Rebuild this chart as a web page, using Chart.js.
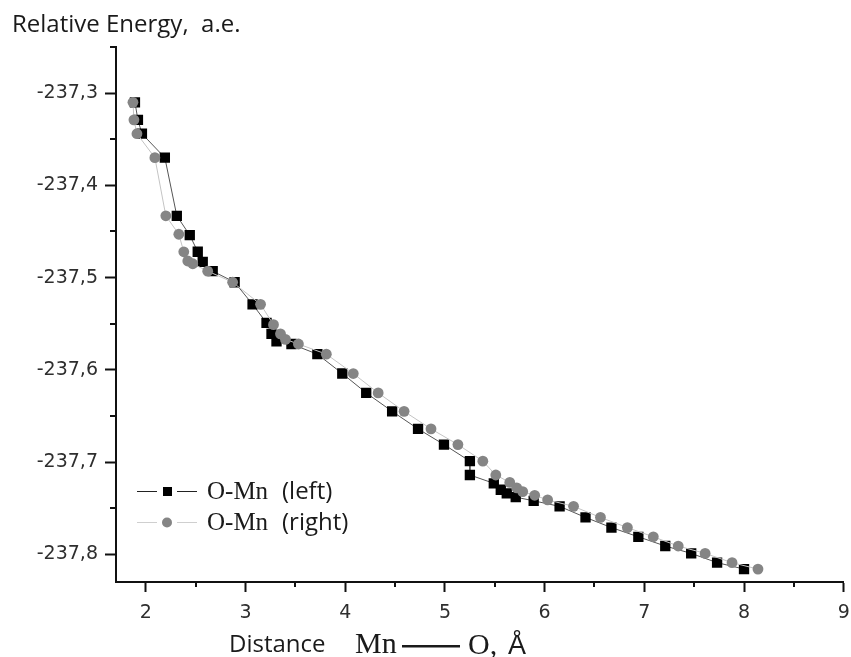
<!DOCTYPE html>
<html>
<head>
<meta charset="utf-8">
<script src="https://cdn.jsdelivr.net/npm/chart.js@4.4.1/dist/chart.umd.min.js"></script>
<style>
  html, body { margin: 0; padding: 0; background: #ffffff; }
  canvas { display: block; }
</style>
</head>
<body>
<canvas id="c" width="851" height="657" style="width:851px;height:657px"></canvas>
<script>
// ---- data ----
const leftLabel = ['O-Mn', '(left)'];
const rightLabel = ['O-Mn', '(right)'];
const yTitle = 'Relative Energy,  a.e.';
const xTitleParts = ['Distance', 'Mn', 'O,', 'Å'];

const xLeft = [1.89, 1.92, 1.96, 2.19, 2.31, 2.44, 2.52, 2.57, 2.67, 2.89, 3.07, 3.21, 3.26, 3.31, 3.46, 3.72, 3.97, 4.21, 4.47, 4.73, 4.99, 5.25, 5.25, 5.49, 5.56, 5.62, 5.71, 5.89, 6.15, 6.41, 6.67, 6.94, 7.21, 7.47, 7.73, 8.00];
const eLeft = [-237.310, -237.329, -237.344, -237.370, -237.433, -237.454, -237.472, -237.483, -237.493, -237.505, -237.529, -237.549, -237.561, -237.569, -237.572, -237.583, -237.604, -237.625, -237.645, -237.664, -237.681, -237.699, -237.714, -237.723, -237.730, -237.734, -237.738, -237.742, -237.748, -237.760, -237.771, -237.781, -237.791, -237.799, -237.809, -237.816];

const xRight = [1.87, 1.88, 1.91, 2.09, 2.20, 2.33, 2.38, 2.42, 2.47, 2.62, 2.87, 3.15, 3.28, 3.35, 3.40, 3.53, 3.81, 4.08, 4.33, 4.59, 4.86, 5.13, 5.38, 5.51, 5.65, 5.72, 5.78, 5.90, 6.03, 6.29, 6.56, 6.83, 7.09, 7.34, 7.61, 7.88, 8.14];
const eRight = [-237.310, -237.329, -237.344, -237.370, -237.433, -237.453, -237.472, -237.482, -237.485, -237.493, -237.505, -237.529, -237.551, -237.561, -237.567, -237.572, -237.583, -237.604, -237.625, -237.645, -237.664, -237.681, -237.699, -237.714, -237.722, -237.728, -237.732, -237.736, -237.741, -237.748, -237.760, -237.771, -237.781, -237.791, -237.799, -237.809, -237.816];

const xTicks = [2, 3, 4, 5, 6, 7, 8, 9];
const xTickLabels = ['2', '3', '4', '5', '6', '7', '8', '9'];
const yTicks = [-237.8, -237.7, -237.6, -237.5, -237.4, -237.3];
const yTickLabels = ['-237,8', '-237,7', '-237,6', '-237,5', '-237,4', '-237,3'];
const xRange = [1.7, 9];
const yRange = [-237.83, -237.25];

// ---- styling ----
const AX = '#111111';
const SQ = '#000000';
const CI = '#858585';
const LINE_L = '#555555';
const LINE_R = '#c4c4c4';
const tickFont = { family: '"DejaVu Sans"', size: 19 };

const toPts = (xs, ys) => xs.map((v, i) => ({ x: v, y: ys[i] }));

const decor = {
  id: 'decor',
  afterDraw(chart) {
    const ctx = chart.ctx;
    const xs = chart.scales.x, ys = chart.scales.y, a = chart.chartArea;
    ctx.save();
    // minor ticks
    ctx.strokeStyle = AX; ctx.lineWidth = 2;
    const half = (arr) => {
      const out = [];
      const step = arr[1] - arr[0];
      for (let i = 0; i < arr.length - 1; i++) out.push((arr[i] + arr[i + 1]) / 2);
      out.push(arr[0] - step / 2, arr[arr.length - 1] + step / 2);
      return out;
    };
    half(yTicks).forEach(v => {
      if (v < yRange[0] - 1e-9 || v > yRange[1] + 1e-9) return;
      const p = Math.round(ys.getPixelForValue(v));
      ctx.beginPath(); ctx.moveTo(a.left - 6, p); ctx.lineTo(a.left, p); ctx.stroke();
    });
    half(xTicks).forEach(v => {
      if (v < xRange[0] - 1e-9 || v > xRange[1] + 1e-9) return;
      const p = Math.round(xs.getPixelForValue(v));
      ctx.beginPath(); ctx.moveTo(p, a.bottom); ctx.lineTo(p, a.bottom + 5); ctx.stroke();
    });

    // y title (horizontal, top left)
    ctx.fillStyle = '#1a1a1a';
    ctx.textBaseline = 'alphabetic';
    ctx.textAlign = 'left';
    ctx.font = '24px "Open Sans"';
    ctx.fillText(yTitle, 12, 32);

    // x title: Distance  Mn —— O, Å
    ctx.font = '24px "Open Sans"';
    ctx.fillText(xTitleParts[0], 229, 652);
    ctx.font = '30px "Liberation Serif"';
    ctx.fillText(xTitleParts[1], 355, 653);
    ctx.fillRect(402, 645, 58, 2.5);
    ctx.font = '30px "Liberation Serif"';
    ctx.fillText(xTitleParts[2], 468, 654);
    ctx.font = '27px "Liberation Sans"';
    ctx.fillText(xTitleParts[3], 508, 654);

    // legend
    const rows = [
      { y: 491, line: '#222222', lw: 1, style: 'rect', color: SQ, text: leftLabel },
      { y: 522, line: '#cfcfcf', lw: 1, style: 'circle', color: CI, text: rightLabel }
    ];
    rows.forEach(r => {
      ctx.strokeStyle = r.line; ctx.lineWidth = r.lw;
      ctx.beginPath(); ctx.moveTo(137, r.y + 0.5); ctx.lineTo(157, r.y + 0.5);
      ctx.moveTo(177, r.y + 0.5); ctx.lineTo(197, r.y + 0.5); ctx.stroke();
      ctx.fillStyle = r.color;
      if (r.style === 'rect') { ctx.fillRect(163, r.y - 4, 9, 9); }
      else { ctx.beginPath(); ctx.arc(167, r.y + 0.5, 5, 0, Math.PI * 2); ctx.fill(); }
      ctx.fillStyle = '#1a1a1a';
      ctx.font = '25px "Liberation Serif"';
      ctx.fillText(r.text[0], 207, r.y + 8);
      ctx.font = '24px "Open Sans"';
      ctx.fillText(r.text[1], 282, r.y + 8);
    });
    ctx.restore();
  }
};

new Chart(document.getElementById('c'), {
  type: 'scatter',
  data: {
    datasets: [
      {
        label: leftLabel.join(' '),
        data: toPts(xLeft, eLeft),
        showLine: true,
        borderColor: LINE_L,
        borderWidth: 1,
        pointStyle: 'rect',
        pointRadius: 7.3,
        pointBackgroundColor: SQ,
        pointBorderColor: SQ,
        pointBorderWidth: 0,
        order: 1
      },
      {
        label: rightLabel.join(' '),
        data: toPts(xRight, eRight),
        showLine: true,
        borderColor: LINE_R,
        borderWidth: 1,
        pointStyle: 'circle',
        pointRadius: 5.4,
        pointBackgroundColor: CI,
        pointBorderColor: CI,
        pointBorderWidth: 0,
        order: 0
      }
    ]
  },
  options: {
    responsive: false,
    animation: false,
    devicePixelRatio: 1,
    layout: { padding: { top: 47, right: 0, left: 0, bottom: 0 } },
    plugins: { legend: { display: false }, tooltip: { enabled: false }, title: { display: false } },
    scales: {
      x: {
        type: 'linear',
        min: xRange[0], max: xRange[1],
        afterBuildTicks: s => { s.ticks = xTicks.map(v => ({ value: v })); },
        afterFit: s => { s.height = 75; s.paddingRight = 7; },
        grid: { drawOnChartArea: false, drawTicks: true, tickLength: 10, tickWidth: 2, tickColor: AX },
        border: { display: true, color: AX, width: 2 },
        ticks: {
          color: '#2e2e2e', font: tickFont, padding: 10, maxRotation: 0, autoSkip: false,
          callback: (v, i) => xTickLabels[i]
        }
      },
      y: {
        type: 'linear',
        min: yRange[0], max: yRange[1],
        afterBuildTicks: s => { s.ticks = yTicks.map(v => ({ value: v })); },
        afterFit: s => { s.width = 116; },
        grid: { drawOnChartArea: false, drawTicks: true, tickLength: 11, tickWidth: 2, tickColor: AX },
        border: { display: true, color: AX, width: 2 },
        ticks: {
          color: '#2e2e2e', font: tickFont, padding: 7, autoSkip: false,
          callback: (v, i) => yTickLabels[i]
        }
      }
    }
  },
  plugins: [decor]
});
</script>
</body>
</html>
